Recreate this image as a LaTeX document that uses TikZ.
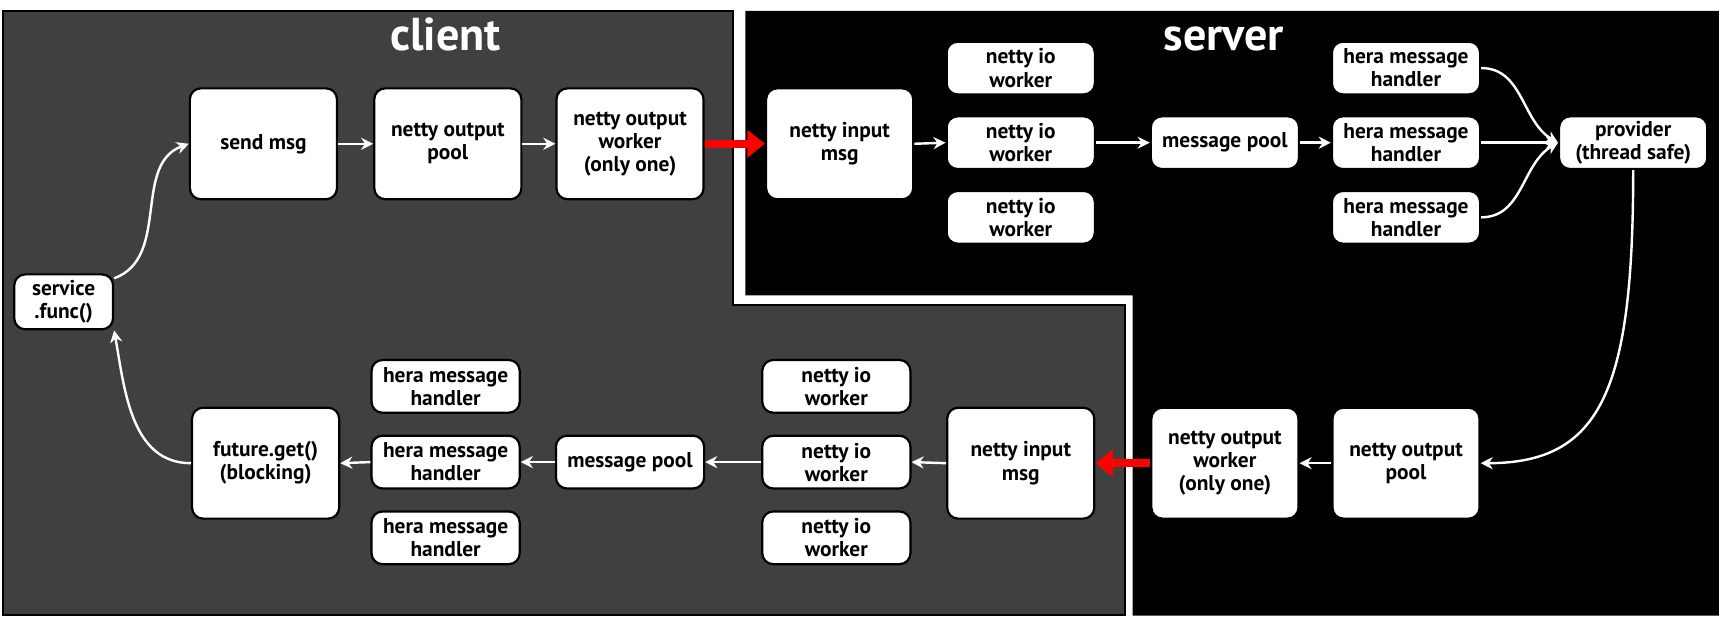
\documentclass[tikz,border=0pt]{standalone}
\usepackage{fontspec}
\setmainfont{PT Sans}
\usetikzlibrary{arrows.meta}
\definecolor{clientgray}{HTML}{404040}
\tikzset{
  box/.style={draw=black, line width=2pt, fill=white, rounded corners=10pt, align=center, inner sep=0pt, font=\bfseries\fontsize{19.5}{21}\selectfont},
  bigbox/.style={box, minimum width=134pt, minimum height=101pt},
  smallbox/.style={box, minimum width=135pt, minimum height=48pt},
  flow/.style={draw=white, line width=2.2pt, -{Stealth[length=11pt,width=11pt]}},
  hop/.style={draw=red, line width=7pt, -{Triangle[length=16pt,width=24pt]}},
  title/.style={text=white, anchor=base, font=\bfseries\fontsize{42}{42}\selectfont}
}
\newcommand{\bigbox}[3]{\node[bigbox] (#1) at (#2) {#3};}
\newcommand{\smallbox}[3]{\node[smallbox] (#1) at (#2) {#3};}

\begin{document}
\begin{tikzpicture}[x=1pt, y=1pt]
        \useasboundingbox (0,0) rectangle (1568,-562);

        % panels
        \filldraw[fill=clientgray, draw=black, line width=2pt] (3,-10) -- (668,-10) -- (668,-278) -- (1025,-278) -- (1025,-560) -- (3,-560) -- cycle;
        \fill[black] (679,-10) -- (1566,-10) -- (1566,-561) -- (1032,-561) -- (1032,-269) -- (679,-269) -- cycle;
        \node[title] (clienttitle) at (406,-46) {client};
        \node[title] (servertitle) at (1115,-46) {server};

        % client, request
        \node[box, minimum width=90pt, minimum height=50pt] (service) at (58,-275) {service\\.func()};
        \bigbox{send}{240,-131}{send msg}
        \bigbox{coutpool}{408,-131}{netty output\\pool}
        \bigbox{coutworker}{574,-131}{netty output\\worker\\(only one)}

        % server, request
        \bigbox{sinput}{765,-131}{netty input\\msg}
        \smallbox{sio1}{930,-62}{netty io\\worker}
        \smallbox{sio2}{930,-130}{netty io\\worker}
        \smallbox{sio3}{930,-198}{netty io\\worker}
        \smallbox{smsgpool}{1116,-130}{message pool}
        \smallbox{shera1}{1281,-62}{hera message\\handler}
        \smallbox{shera2}{1281,-130}{hera message\\handler}
        \smallbox{shera3}{1281,-198}{hera message\\handler}
        \smallbox{provider}{1488,-130}{provider\\(thread safe)}

        % server, response
        \bigbox{soutpool}{1281,-422}{netty output\\pool}
        \bigbox{soutworker}{1116,-422}{netty output\\worker\\(only one)}

        % client, response
        \bigbox{cinput}{930,-422}{netty input\\msg}
        \smallbox{cio1}{762,-352}{netty io\\worker}
        \smallbox{cio2}{762,-421}{netty io\\worker}
        \smallbox{cio3}{762,-490}{netty io\\worker}
        \smallbox{cmsgpool}{574,-421}{message pool}
        \smallbox{chera1}{406,-352}{hera message\\handler}
        \smallbox{chera2}{406,-421}{hera message\\handler}
        \smallbox{chera3}{406,-490}{hera message\\handler}
        \bigbox{future}{242,-422}{future.get()\\(blocking)}

        % request path
        \draw[flow] (service.25) to[out=20,in=200] (send.west);
        \draw[flow] (send.east) -- (coutpool.west);
        \draw[flow] (coutpool.east) -- (coutworker.west);
        \draw[hop] (coutworker.east) -- (sinput.west);
        \draw[flow] (sinput.east) -- (sio2.west);
        \draw[flow] (sio2.east) -- (smsgpool.west);
        \draw[flow] (smsgpool.east) -- (shera2.west);
        \draw[flow] (shera1.east) to[out=0,in=150] (provider.west);
        \draw[flow] (shera2.east) -- (provider.west);
        \draw[flow] (shera3.east) to[out=0,in=210] (provider.west);

        % response path
        \draw[flow] (provider.south) .. controls +(0,-200) and +(110,0) .. (soutpool.east);
        \draw[flow] (soutpool.west) -- (soutworker.east);
        \draw[hop] (soutworker.west) -- (cinput.east);
        \draw[flow] (cinput.west) -- (cio2.east);
        \draw[flow] (cio2.west) -- (cmsgpool.east);
        \draw[flow] (cmsgpool.west) -- (chera2.east);
        \draw[flow] (chera2.west) -- (future.east);
        \draw[flow] (future.west) to[out=180,in=-80] (service.south east);
    \end{tikzpicture}
\end{document}
